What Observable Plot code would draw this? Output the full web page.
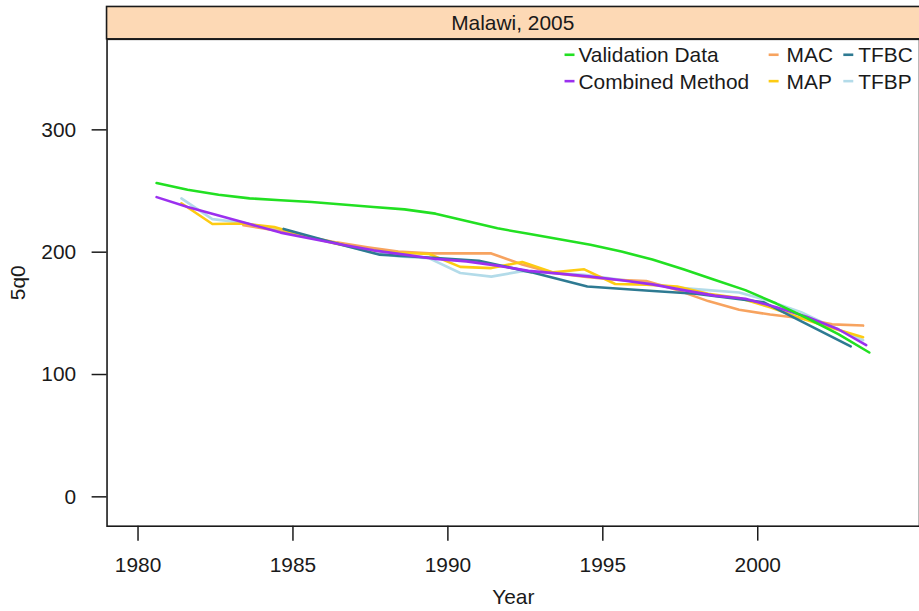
<!DOCTYPE html>
<html><head><meta charset="utf-8">
<script src="https://cdn.jsdelivr.net/npm/d3@7"></script>
<script src="https://cdn.jsdelivr.net/npm/@observablehq/plot@0.6"></script>
<style>html,body{margin:0;padding:0;overflow:hidden;background:#fff} svg{display:block}</style>
</head><body><div id="chart"></div>
<script>
// ---- data ----
const panelTitle = "Malawi, 2005";
const xTicks = [1980, 1985, 1990, 1995, 2000];
const yTicks = [0, 100, 200, 300];

const validationYears = [1980.6,1981.6,1982.6,1983.6,1984.6,1985.6,1986.6,1987.6,1988.6,1989.6,1990.6,1991.6,1992.6,1993.6,1994.6,1995.6,1996.6,1997.6,1998.6,1999.6,2000.6,2001.6,2002.6,2003.6];
const validationValues = [256.5,251,247,244,242.5,241,239,237,235,231.5,225.5,219.5,215,210.5,206,200.5,194,186,177.5,169,158,146,133,118];

const combinedYears = [1980.6,1981.6,1982.6,1983.6,1984.6,1985.6,1986.6,1987.6,1988.6,1989.6,1990.6,1991.6,1992.6,1993.6,1994.6,1995.6,1996.6,1997.6,1998.6,1999.6,2000.6,2001.6,2002.6,2003.5];
const combinedValues = [245,237,230,223,216,211,206,201.5,198,194.5,192.5,189,184.7,182.5,180,177,173.7,169,164.5,162,155,147,137,124];

const macYears = [1983.4,1984.4,1985.4,1986.4,1987.4,1988.4,1989.4,1990.4,1991.4,1992.4,1993.4,1994.4,1995.4,1996.4,1997.4,1998.4,1999.4,2000.4,2001.4,2002.4,2003.4];
const macValues = [222,218,213,208,204,200.5,199,199,199,190,183,180,177.5,176.5,169,160,153,149,146,141,140];

const mapYears = [1981.4,1982.4,1983.4,1984.4,1985.4,1986.4,1987.4,1988.4,1989.4,1990.4,1991.4,1992.4,1993.4,1994.4,1995.4,1996.4,1997.4,1998.4,1999.4,2000.4,2001.4,2002.4,2003.4];
const mapValues = [240,223,223.5,220.5,213,207,202,199.5,198.5,188,187,192,183.5,186,174,173.5,172,166,162.5,155,146,138,130.5];

const tfbcYears = [1984.7,1986.2,1987.8,1989.5,1991.0,1992.7,1994.5,1996.5,1998.0,2000.2,2003.0];
const tfbcValues = [219,208.5,198,195.5,193,183.5,172,168.5,166,159,123];

const tfbpYears = [1981.4,1982.4,1983.4,1984.4,1985.4,1986.4,1987.4,1988.4,1989.4,1990.4,1991.4,1992.4,1993.4,1994.4,1995.4,1996.4,1997.4,1998.4,1999.4,2000.4,2001.4,2002.4,2003.4];
const tfbpValues = [244,227,224,219,213,207,201,196.5,195,183,180,184.5,183,181.5,178,175,171,169,167,160,151,139,128];

const seriesNames = ["Validation Data","Combined Method","MAC","MAP","TFBC","TFBP"];
const seriesColors = ["#22e022","#9b30ef","#f7a35f","#fdcb12","#2e7a92","#b3dbe9"];

// draw order (last on top)
const drawOrder = [
  ["TFBP", tfbpYears, tfbpValues],
  ["MAC", macYears, macValues],
  ["MAP", mapYears, mapValues],
  ["TFBC", tfbcYears, tfbcValues],
  ["Combined Method", combinedYears, combinedValues],
  ["Validation Data", validationYears, validationValues]
];
const rows = drawOrder.flatMap(([s, ys, vs]) => ys.map((yr, i) => ({series: s, year: yr, value: vs[i]})));

const FONT = "'Liberation Sans', Arial, sans-serif";
const INK = "#1a1a1a";

const svg = Plot.plot({
  width: 923, height: 611,
  marginLeft: 107, marginRight: 0, marginTop: 39, marginBottom: 83,
  style: {fontFamily: FONT, fontSize: "21px", color: INK, background: "white", overflow: "visible"},
  x: {domain: [1979.0, 2005.22]},
  y: {domain: [-24, 374]},
  color: {domain: seriesNames, range: seriesColors},
  marks: [
    Plot.axisX({ticks: xTicks, tickSize: 15, tickPadding: 16, tickFormat: d => String(d), fontSize: 21, strokeWidth: 1.5,
      label: "Year", labelAnchor: "center", labelOffset: 78, labelArrow: "none"}),
    Plot.axisY({ticks: yTicks, tickSize: 15, tickPadding: 16, fontSize: 21, strokeWidth: 1.5,
      label: "5q0", labelAnchor: "center", labelOffset: 97, labelArrow: "none"}),
    Plot.line(rows, {x: "year", y: "value", z: "series", stroke: "series", strokeWidth: 2.6, curve: "linear"}),
    Plot.frame({stroke: INK, strokeWidth: 1.6})
  ]
});
document.getElementById("chart").appendChild(svg);

// ---- strip (panel header) ----
const s = d3.select(svg);
s.append("rect").attr("x", 107).attr("y", 6.5).attr("width", 830).attr("height", 32.5)
  .attr("fill", "#fdd9b5").attr("stroke", INK).attr("stroke-width", 1.6);
s.append("text").attr("x", 515).attr("y", 23).attr("text-anchor", "middle").attr("dominant-baseline", "central")
  .attr("font-family", FONT).attr("font-size", 21).attr("fill", INK).text(panelTitle);

// ---- legend ----
const legendItems = [
  {name: "Validation Data", col: 0, row: 0},
  {name: "Combined Method", col: 0, row: 1},
  {name: "MAC", col: 1, row: 0},
  {name: "MAP", col: 1, row: 1},
  {name: "TFBC", col: 2, row: 0},
  {name: "TFBP", col: 2, row: 1}
];
const colDash = [567, 772, 847];
const colText = [581, 790, 862];
const rowY = [55, 81.5];
const lg = s.append("g").attr("text-anchor", "start");
legendItems.forEach(it => {
  const c = seriesColors[seriesNames.indexOf(it.name)];
  const y0 = rowY[it.row];
  lg.append("line").attr("x1", colDash[it.col]).attr("x2", colDash[it.col] + 10).attr("y1", y0).attr("y2", y0)
    .attr("stroke", c).attr("stroke-width", 2.6);
  lg.append("text").attr("x", colText[it.col]).attr("y", y0).attr("dominant-baseline", "central")
    .attr("text-anchor", "start")
    .attr("font-family", FONT).attr("font-size", 21).attr("fill", INK).text(it.name);
});
</script></body></html>
